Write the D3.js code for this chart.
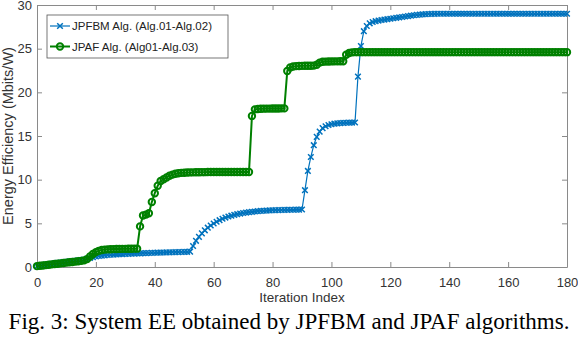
<!DOCTYPE html>
<html>
<head>
<meta charset="utf-8">
<script src="https://cdn.jsdelivr.net/npm/d3@7"></script>
<style>
  body { margin: 0; background: #fff; }
  svg { display: block; }
  .tick text { font-family: "Liberation Sans", Arial, sans-serif; font-size: 13px; fill: #333; }
</style>
</head>
<body>
<div id="chart"></div>
<script>
// iteration values (index 0..180)
const jpfbm = [
  0.10, 0.16, 0.21, 0.27, 0.32, 0.37, 0.42, 0.47, 0.52, 0.56,
  0.60, 0.64, 0.68, 0.72, 0.76, 0.80, 0.85, 0.93, 1.03, 1.12,
  1.20, 1.26, 1.30, 1.34, 1.37, 1.40, 1.42, 1.44, 1.46, 1.48,
  1.50, 1.51, 1.53, 1.54, 1.55, 1.56, 1.58, 1.59, 1.60, 1.62,
  1.63, 1.64, 1.65, 1.66, 1.67, 1.68, 1.69, 1.70, 1.71, 1.72,
  1.73, 1.74, 1.76, 2.40, 3.00, 3.45, 3.85, 4.20, 4.50, 4.75,
  4.98, 5.18, 5.36, 5.52, 5.66, 5.78, 5.88, 5.97, 6.05, 6.12,
  6.18, 6.23, 6.28, 6.32, 6.36, 6.39, 6.42, 6.44, 6.46, 6.48,
  6.50, 6.51, 6.52, 6.53, 6.54, 6.55, 6.56, 6.56, 6.57, 6.57,
  6.58, 8.80, 11.00, 12.60, 13.95, 14.90, 15.50, 15.90, 16.12, 16.26,
  16.35, 16.41, 16.45, 16.48, 16.50, 16.52, 16.53, 16.54, 16.55, 21.80,
  25.30, 27.00, 27.60, 27.90, 28.05, 28.15, 28.22, 28.28, 28.33, 28.38,
  28.43, 28.48, 28.53, 28.58, 28.63, 28.68, 28.73, 28.78, 28.83, 28.87,
  28.90, 28.93, 28.95, 28.97, 28.98, 28.99, 29.00, 29.00, 29.00, 29.00,
  29.00, 29.00, 29.00, 29.00, 29.00, 29.00, 29.00, 29.00, 29.00, 29.00,
  29.00, 29.00, 29.00, 29.00, 29.00, 29.00, 29.00, 29.00, 29.00, 29.00,
  29.00, 29.00, 29.00, 29.00, 29.00, 29.00, 29.00, 29.00, 29.00, 29.00,
  29.00, 29.00, 29.00, 29.00, 29.00, 29.00, 29.00, 29.00, 29.00, 29.00,
  29.00
];
const jpaf = [
  0.10, 0.14, 0.18, 0.22, 0.26, 0.30, 0.34, 0.38, 0.42, 0.46,
  0.50, 0.54, 0.58, 0.62, 0.66, 0.70, 0.76, 0.90, 1.20, 1.48,
  1.70, 1.85, 1.94, 1.99, 2.02, 2.04, 2.05, 2.06, 2.07, 2.08,
  2.08, 2.09, 2.09, 2.10, 2.10, 4.65, 5.90, 6.00, 6.15, 7.45,
  8.45, 9.30, 9.85, 10.05, 10.25, 10.45, 10.58, 10.68, 10.74, 10.78,
  10.80, 10.82, 10.83, 10.84, 10.85, 10.85, 10.86, 10.86, 10.87, 10.87,
  10.87, 10.87, 10.88, 10.88, 10.88, 10.88, 10.88, 10.88, 10.88, 10.88,
  10.88, 10.88, 10.88, 17.30, 18.05, 18.10, 18.12, 18.13, 18.14, 18.14,
  18.15, 18.15, 18.15, 18.16, 18.16, 22.45, 22.85, 22.95, 23.00, 23.02,
  23.03, 23.04, 23.05, 23.05, 23.06, 23.15, 23.40, 23.50, 23.52, 23.53,
  23.54, 23.55, 23.55, 23.56, 23.56, 24.30, 24.50, 24.58, 24.60, 24.60,
  24.60, 24.60, 24.60, 24.60, 24.60, 24.60, 24.60, 24.60, 24.60, 24.60,
  24.60, 24.60, 24.60, 24.60, 24.60, 24.60, 24.60, 24.60, 24.60, 24.60,
  24.60, 24.60, 24.60, 24.60, 24.60, 24.60, 24.60, 24.60, 24.60, 24.60,
  24.60, 24.60, 24.60, 24.60, 24.60, 24.60, 24.60, 24.60, 24.60, 24.60,
  24.60, 24.60, 24.60, 24.60, 24.60, 24.60, 24.60, 24.60, 24.60, 24.60,
  24.60, 24.60, 24.60, 24.60, 24.60, 24.60, 24.60, 24.60, 24.60, 24.60,
  24.60, 24.60, 24.60, 24.60, 24.60, 24.60, 24.60, 24.60, 24.60, 24.60,
  24.60
];
const xTicks = [0, 20, 40, 60, 80, 100, 120, 140, 160, 180];
const yTicks = [0, 5, 10, 15, 20, 25, 30];
const seriesNames = ["JPFBM Alg. (Alg.01-Alg.02)", "JPAF Alg. (Alg01-Alg.03)"];
const colors = ["#0072bd", "#008000"];

let dimensions = {
  width: 578,
  height: 340,
  margin: { top: 5, bottom: 73, left: 37, right: 11 },
};
dimensions.containerWidth = dimensions.width - dimensions.margin.left - dimensions.margin.right;
dimensions.containerHeight = dimensions.height - dimensions.margin.top - dimensions.margin.bottom;

const svg = d3.select("#chart").append("svg")
  .attr("width", dimensions.width)
  .attr("height", dimensions.height);

const container = svg.append("g")
  .attr("transform", `translate(${dimensions.margin.left}, ${dimensions.margin.top})`);

const xScale = d3.scaleLinear().domain([0, 180]).range([0, dimensions.containerWidth]);
const yScale = d3.scaleLinear().domain([0, 30]).range([dimensions.containerHeight, 0]);

// axes, matlab style: ticks inside, mirrored on top/right
const axisColor = "#8a8a8a";
container.append("g")
  .attr("transform", `translate(0, ${dimensions.containerHeight})`)
  .call(d3.axisBottom(xScale).tickValues(xTicks).tickSizeInner(-5).tickSizeOuter(0).tickPadding(11));
container.append("g")
  .call(d3.axisLeft(yScale).tickValues(yTicks).tickSizeInner(-5).tickSizeOuter(0).tickPadding(5));
container.append("g")
  .call(d3.axisTop(xScale).tickValues(xTicks).tickSizeInner(-5).tickSizeOuter(0).tickFormat(""));
container.append("g")
  .attr("transform", `translate(${dimensions.containerWidth}, 0)`)
  .call(d3.axisRight(yScale).tickValues(yTicks).tickSizeInner(-5).tickSizeOuter(0).tickFormat(""));
container.selectAll(".domain, .tick line").attr("stroke", axisColor);

// lines
const line = d3.line()
  .x((d, i) => xScale(i))
  .y((d) => yScale(d));

const xMark = "M-2.8,-2.8L2.8,2.8M-2.8,2.8L2.8,-2.8";

container.append("path")
  .datum(jpfbm)
  .attr("fill", "none")
  .attr("stroke", colors[0])
  .attr("stroke-width", 1.2)
  .attr("d", line);
container.append("g")
  .selectAll("path")
  .data(jpfbm)
  .join("path")
  .attr("transform", (d, i) => `translate(${xScale(i)}, ${yScale(d)})`)
  .attr("d", xMark)
  .attr("stroke", colors[0])
  .attr("stroke-width", 1.5)
  .attr("fill", "none");

container.append("path")
  .datum(jpaf)
  .attr("fill", "none")
  .attr("stroke", colors[1])
  .attr("stroke-width", 2)
  .attr("d", line);
container.append("g")
  .selectAll("circle")
  .data(jpaf)
  .join("circle")
  .attr("cx", (d, i) => xScale(i))
  .attr("cy", (d) => yScale(d))
  .attr("r", 3.2)
  .attr("fill", "none")
  .attr("stroke", colors[1])
  .attr("stroke-width", 2);

// legend
const legend = svg.append("g").attr("transform", "translate(47, 15)");
legend.append("rect")
  .attr("width", 181).attr("height", 43)
  .attr("fill", "#fff").attr("stroke", "#555").attr("stroke-width", 0.8);
seriesNames.forEach((name, k) => {
  const y = 11 + k * 20.5;
  const row = legend.append("g").attr("transform", `translate(0, ${y})`);
  row.append("line").attr("x1", 3).attr("x2", 23)
    .attr("stroke", colors[k]).attr("stroke-width", k ? 2 : 1.2);
  if (k == 0) {
    row.append("path").attr("transform", "translate(13,0)").attr("d", xMark)
      .attr("stroke", colors[0]).attr("stroke-width", 1.5);
  } else {
    row.append("circle").attr("cx", 13).attr("r", 3.2)
      .attr("fill", "none").attr("stroke", colors[1]).attr("stroke-width", 2);
  }
  row.append("text").attr("x", 25).attr("y", 4)
    .attr("font-family", "Liberation Sans, Arial, sans-serif")
    .attr("font-size", 11.5).attr("fill", "#222")
    .text(name);
});

// axis labels
svg.append("text")
  .attr("transform", `translate(12.5, ${dimensions.margin.top + dimensions.containerHeight / 2}) rotate(-90)`)
  .attr("text-anchor", "middle")
  .attr("font-family", "Liberation Sans, Arial, sans-serif")
  .attr("font-size", 14.5).attr("fill", "#333")
  .text("Energy Efficiency (Mbits/W)");

svg.append("text")
  .attr("x", dimensions.margin.left + dimensions.containerWidth / 2)
  .attr("y", 302)
  .attr("text-anchor", "middle")
  .attr("font-family", "Liberation Sans, Arial, sans-serif")
  .attr("font-size", 13.5).attr("fill", "#333")
  .text("Iteration Index");

// caption
svg.append("text")
  .attr("x", 289)
  .attr("y", 329)
  .attr("text-anchor", "middle")
  .attr("font-family", "Liberation Serif, Times New Roman, serif")
  .attr("font-size", 23).attr("fill", "#000")
  .text("Fig. 3: System EE obtained by JPFBM and JPAF algorithms.");
</script>
</body>
</html>
